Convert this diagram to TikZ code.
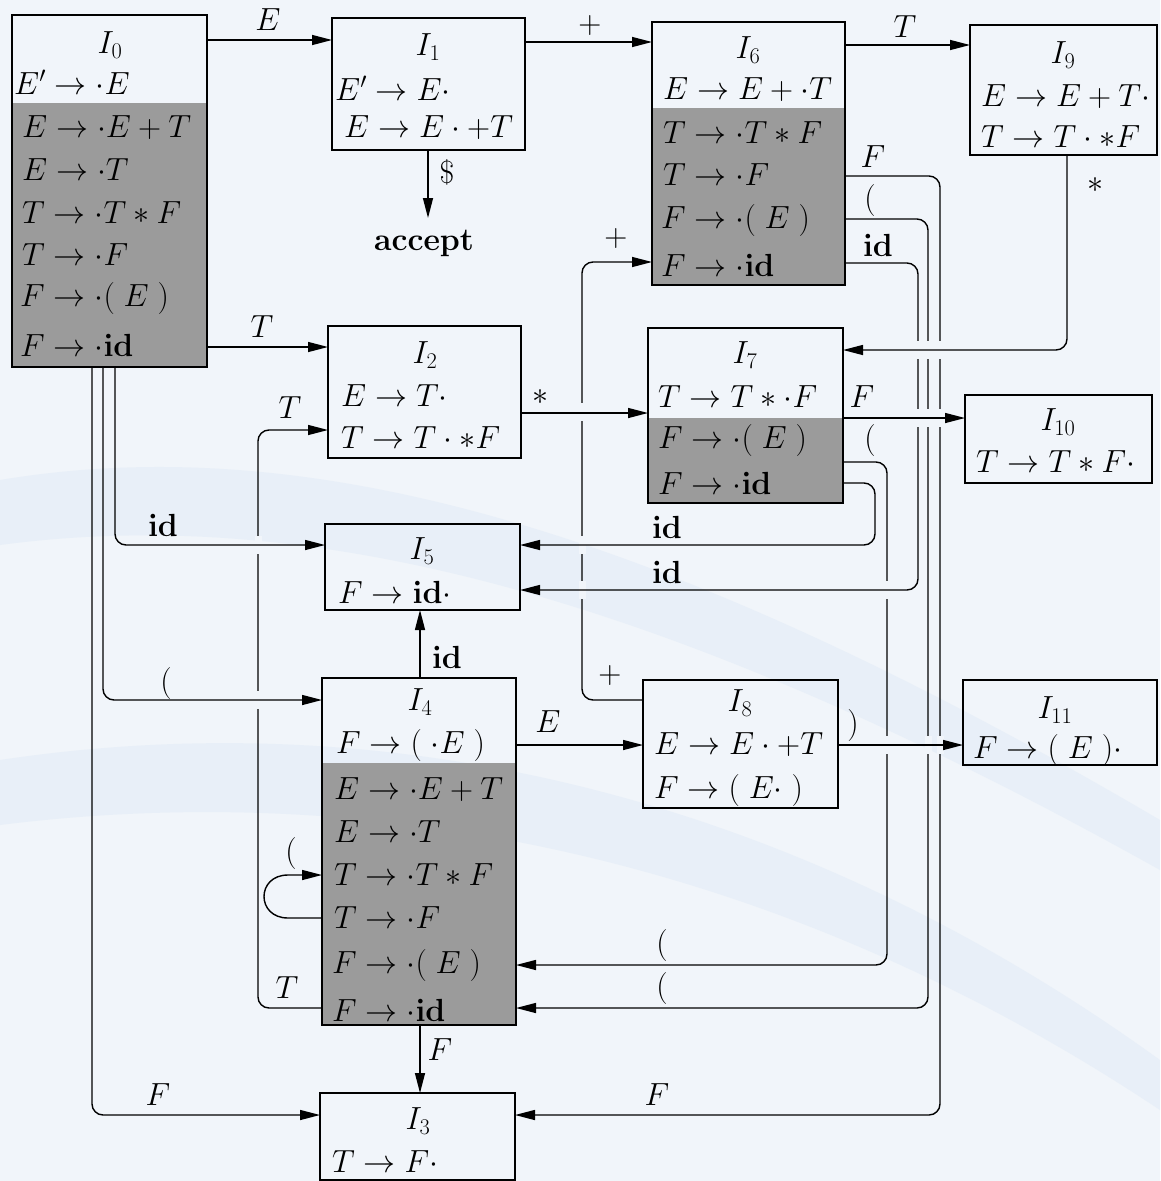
\documentclass[tikz,border=0pt]{standalone}
\usepackage{fix-cm}
\usetikzlibrary{arrows.meta}
\definecolor{bgc}{RGB}{241,245,250}
\definecolor{swc}{RGB}{232,239,248}
\definecolor{shd}{RGB}{155,155,155}
\newcommand\gapat[2]{\fill[gap] ({#1-3.5},{#2-9}) rectangle ({#1+3.5},{#2+9});}
\tikzset{
  box/.style={draw, line width=1.4pt, inner sep=0pt, outer sep=0pt, anchor=north west},
  txt/.style={inner sep=0pt, font=\fontsize{32}{38}\selectfont},
  row/.style={txt, anchor=west},
  conn/.style={line width=1.4pt, rounded corners=11pt, -{Triangle[length=20pt,width=10pt]}},
  gap/.style={fill=bgc, draw=none},
}
\begin{document}
\begin{tikzpicture}[x=1pt,y=-1pt]
\useasboundingbox (0,0) rectangle (1160,1181);
\fill[bgc] (0,0) rectangle (1160,1181);
% decorative background swooshes
\fill[swc] (0,480) .. controls (300,430) and (650,520) .. (1160,820) -- (1160,870) .. controls (650,585) and (300,505) .. (0,545) -- cycle;
\fill[swc] (0,760) .. controls (400,700) and (800,800) .. (1160,1060) -- (1160,1110) .. controls (800,870) and (400,775) .. (0,825) -- cycle;
% shaded (closure) parts
\fill[shd] (12,103) rectangle (207,367);
\fill[shd] (652,108) rectangle (845,285);
\fill[shd] (648,418) rectangle (843,503);
\fill[shd] (322,763) rectangle (516,1025);
% boxes
\node[box, minimum width=195pt, minimum height=352pt] (I0) at (12,15) {};
\node[box, minimum width=193pt, minimum height=132pt] (I1) at (332,18) {};
\node[box, minimum width=193pt, minimum height=263pt] (I6) at (652,22) {};
\node[box, minimum width=187pt, minimum height=130pt] (I9) at (970,25) {};
\node[box, minimum width=193pt, minimum height=132pt] (I2) at (328,326) {};
\node[box, minimum width=195pt, minimum height=175pt] (I7) at (648,328) {};
\node[box, minimum width=187pt, minimum height=88pt] (I10) at (965,395) {};
\node[box, minimum width=195pt, minimum height=86pt] (I5) at (325,524) {};
\node[box, minimum width=194pt, minimum height=347pt] (I4) at (322,678) {};
\node[box, minimum width=195pt, minimum height=128pt] (I8) at (643,680) {};
\node[box, minimum width=194pt, minimum height=85pt] (I11) at (963,680) {};
\node[box, minimum width=195pt, minimum height=87pt] (I3) at (320,1093) {};
% I0
\node[txt] (n0) at (110,45) {$I_0$};
\node[row] (t0a) at (14,82) {$E'\to{\cdot}E$};
\node[row] (t0b) at (22,128) {$E\to{\cdot}E+T$};
\node[row] (t0c) at (22,170) {$E\to{\cdot}T$};
\node[row] (t0d) at (22,213) {$T\to{\cdot}T*F$};
\node[row] (t0e) at (22,255) {$T\to{\cdot}F$};
\node[row] (t0f) at (20,298) {$F\to{\cdot}(\;E\;)$};
\node[row] (t0g) at (20,345) {$F\to{\cdot}\mathbf{id}$};
% I1
\node[txt] (n1) at (428,47) {$I_1$};
\node[row] (t1a) at (335,88) {$E'\to E{\cdot}$};
\node[row] (t1b) at (344,128) {$E\to E\cdot{+}T$};
% I6
\node[txt] (n6) at (748,50) {$I_6$};
\node[row] (t6a) at (663,90) {$E\to E+{\cdot}T$};
\node[row] (t6b) at (663,133) {$T\to{\cdot}T*F$};
\node[row] (t6c) at (663,175) {$T\to{\cdot}F$};
\node[row] (t6d) at (661,220) {$F\to{\cdot}(\;E\;)$};
\node[row] (t6e) at (661,265) {$F\to{\cdot}\mathbf{id}$};
% I9
\node[txt] (n9) at (1063,55) {$I_9$};
\node[row] (t9a) at (981,97) {$E\to E+T{\cdot}$};
\node[row] (t9b) at (981,137) {$T\to T\cdot{*}F$};
% I2
\node[txt] (n2) at (425,355) {$I_2$};
\node[row] (t2a) at (341,396) {$E\to T{\cdot}$};
\node[row] (t2b) at (341,438) {$T\to T\cdot{*}F$};
% I7
\node[txt] (n7) at (745,355) {$I_7$};
\node[row] (t7a) at (658,397) {$T\to T*{\cdot}F$};
\node[row] (t7b) at (658,440) {$F\to{\cdot}(\;E\;)$};
\node[row] (t7c) at (658,483) {$F\to{\cdot}\mathbf{id}$};
% I10
\node[txt] (n10) at (1058,422) {$I_{10}$};
\node[row] (t10a) at (976,462) {$T\to T*F{\cdot}$};
% I5
\node[txt] (n5) at (422,551) {$I_5$};
\node[row] (t5a) at (338,592) {$F\to\mathbf{id}{\cdot}$};
% I4
\node[txt] (n4) at (420,702) {$I_4$};
\node[row] (t4a) at (336,745) {$F\to(\;{\cdot}E\;)$};
\node[row] (t4b) at (334,790) {$E\to{\cdot}E+T$};
\node[row] (t4c) at (334,832) {$E\to{\cdot}T$};
\node[row] (t4d) at (334,875) {$T\to{\cdot}T*F$};
\node[row] (t4e) at (334,918) {$T\to{\cdot}F$};
\node[row] (t4f) at (332,965) {$F\to{\cdot}(\;E\;)$};
\node[row] (t4g) at (332,1010) {$F\to{\cdot}\mathbf{id}$};
% I8
\node[txt] (n8) at (740,703) {$I_8$};
\node[row] (t8a) at (654,745) {$E\to E\cdot{+}T$};
\node[row] (t8b) at (654,790) {$F\to(\;E\cdot\;)$};
% I11
\node[txt] (n11) at (1055,710) {$I_{11}$};
\node[row] (t11a) at (973,750) {$F\to(\;E\;){\cdot}$};
% I3
\node[txt] (n3) at (418,1121) {$I_3$};
\node[row] (t3a) at (332,1162) {$T\to F{\cdot}$};
% accept
\node[txt] (acc) at (424,243) {\textbf{accept}};
\coordinate (accin) at (428,218);
% labels
\node[txt] (lE1) at (268,20) {$E$};
\node[txt] (lp1) at (590,25) {$+$};
\node[txt] (lT1) at (905,27) {$T$};
\node[txt] (ldol) at (447,172) {\$};
\node[txt] (lT2) at (262,327) {$T$};
\node[txt] (ls1) at (540,397) {$*$};
\node[txt] (ls2) at (1095,185) {$*$};
\node[txt] (lF1) at (862,397) {$F$};
\node[txt] (lid1) at (163,525) {$\mathbf{id}$};
\node[txt] (lo1) at (166,683) {$($};
\node[txt] (lF2) at (158,1095) {$F$};
\node[txt] (lT3) at (290,408) {$T$};
\node[txt] (lT4) at (287,988) {$T$};
\node[txt] (lo2) at (291,853) {$($};
\node[txt] (lid2) at (447,657) {$\mathbf{id}$};
\node[txt] (lE2) at (548,722) {$E$};
\node[txt] (lF3) at (440,1050) {$F$};
\node[txt] (lc1) at (853,725) {$)$};
\node[txt] (lp2) at (610,675) {$+$};
\node[txt] (lp3) at (616,238) {$+$};
\node[txt] (lo3) at (870,440) {$($};
\node[txt] (lo4) at (662,945) {$($};
\node[txt] (lid3) at (667,527) {$\mathbf{id}$};
\node[txt] (lF4) at (873,157) {$F$};
\node[txt] (lF5) at (657,1095) {$F$};
\node[txt] (lo5) at (870,200) {$($};
\node[txt] (lo6) at (662,988) {$($};
\node[txt] (lid4) at (878,245) {$\mathbf{id}$};
\node[txt] (lid5) at (667,572) {$\mathbf{id}$};
% connectors with long vertical runs (drawn first, then broken where crossed)
\draw[conn] (I4.west |- 0,1008) -| (258,430) -- (I2.west |- 0,430);
\draw[conn] (I8.west |- 0,700) -| (582,262) -- (I6.west |- 0,262);
\draw[conn] (I7.east |- 0,462) -| (887,965) -- (I4.east |- 0,965);
\draw[conn] (I6.east |- 0,176) -| (940,1115) -- (I3.east |- 0,1115);
\draw[conn] (I6.east |- 0,219) -| (928,1008) -- (I4.east |- 0,1008);
\gapat{258}{545}\gapat{258}{700}
\gapat{582}{412}\gapat{582}{545}\gapat{582}{590}
\gapat{887}{590}\gapat{887}{745}
\gapat{928}{350}\gapat{928}{418}\gapat{928}{745}
\gapat{940}{350}\gapat{940}{418}\gapat{940}{745}
\draw[conn] (I6.east |- 0,263) -| (918,590) -- (I5.east |- 0,590);
\gapat{918}{350}\gapat{918}{418}
% remaining connectors
\draw[conn] (I0.east |- 0,40) -- (I1.west |- 0,40);
\draw[conn] (I1.east |- 0,42) -- (I6.west |- 0,42);
\draw[conn] (I6.east |- 0,45) -- (I9.west |- 0,45);
\draw[conn] (I1.south -| 428,0) -- (accin);
\draw[conn] (I0.east |- 0,347) -- (I2.west |- 0,347);
\draw[conn] (I2.east |- 0,413) -- (I7.west |- 0,413);
\draw[conn] (I9.south -| 1067,0) |- (I7.east |- 0,350);
\draw[conn] (I7.east |- 0,418) -- (I10.west |- 0,418);
\draw[conn] (I0.south -| 115,0) |- (I5.west |- 0,545);
\draw[conn] (I0.south -| 103,0) |- (I4.west |- 0,700);
\draw[conn] (I0.south -| 92,0) |- (I3.west |- 0,1115);
\draw[conn, rounded corners=0pt] (I4.west |- 0,918) -- (288,918) .. controls (256,918) and (256,875) .. (288,875) -- (I4.west |- 0,875);
\draw[conn] (I4.north -| 420,0) -- (I5.south -| 420,0);
\draw[conn] (I4.east |- 0,745) -- (I8.west |- 0,745);
\draw[conn] (I4.south -| 420,0) -- (I3.north -| 420,0);
\draw[conn] (I8.east |- 0,745) -- (I11.west |- 0,745);
\draw[conn] (I7.east |- 0,483) -| (875,545) -- (I5.east |- 0,545);
\end{tikzpicture}
\end{document}
